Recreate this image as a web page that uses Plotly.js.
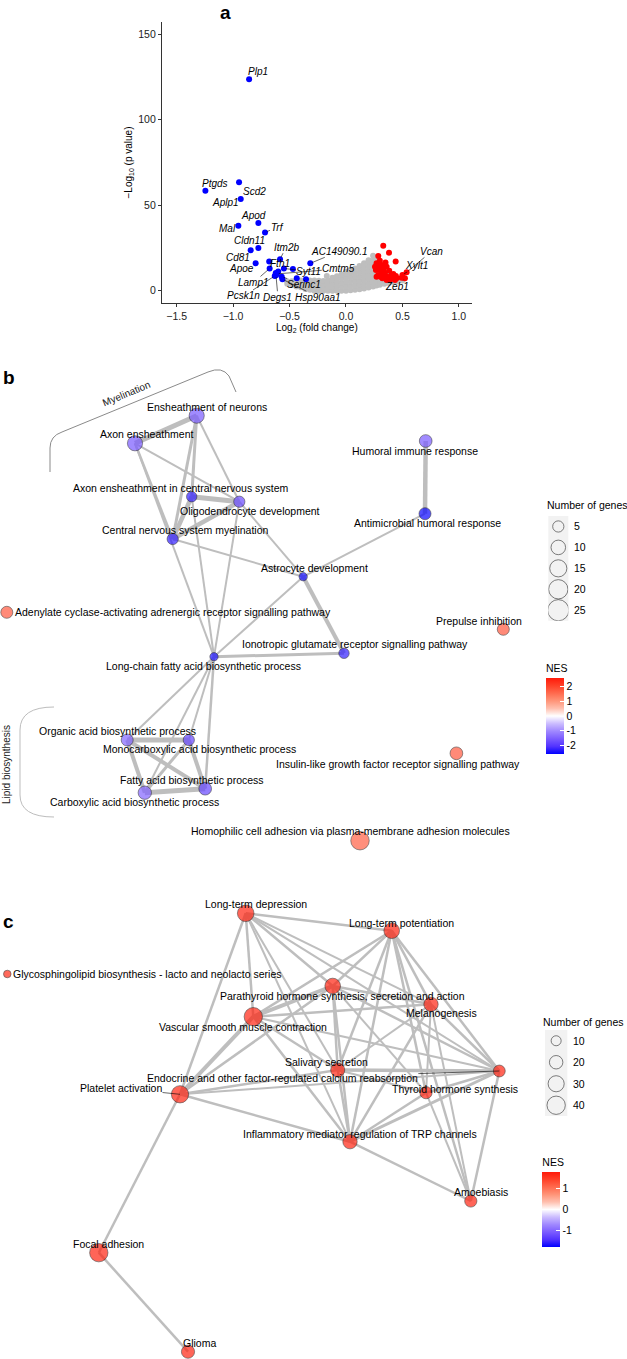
<!DOCTYPE html>
<html><head><meta charset="utf-8">
<script src="https://cdn.plot.ly/plotly-3.0.1.min.js"></script>
<style>html,body{margin:0;padding:0;background:#fff}#chart{width:627px;height:1359px}</style>
</head><body><div id="chart"></div>
<script>
// ================= DATA =================
// Panel a: volcano plot (log2 fold change, -log10 p value)
const blueGenes = ['Plp1','Ptgds','Scd2','Aplp1','Apod','Mal','Trf','Cldn11','Cd81','Itm2b','AC149090.1','Apoe','Fth1','Lamp1','Syt11','Cmtm5','Pcsk1n','Degs1','Hsp90aa1','Serinc1','','','','',''];
const blueLogFC = [-0.858,-1.245,-0.947,-0.932,-0.776,-0.953,-0.717,-0.776,-0.844,-0.584,-0.316,-0.80,-0.68,-0.676,-0.55,-0.613,-0.631,-0.62,-0.563,-0.569,-0.47,-0.436,-0.354,-0.622,-0.60];
const blueLogP  = [123.7,58.5,63.4,53.6,39.6,38.0,34.1,25.0,23.6,18.4,16.0,16.0,17.0,13.0,13.0,9.8,8.6,9.0,6.7,8.2,12.7,7.3,6.7,10.3,11.2];

const redGenes = ['Vcan','Xylt1','Zeb1','','','','','','','','','','','','','','','','','','','','','','','','','','','','','','','',''];
const redLogFC = [0.537,0.50,0.522,0.330,0.381,0.286,0.440,0.271,0.295,0.330,0.360,0.265,0.316,0.286,0.345,0.383,0.419,0.448,0.366,0.413,0.322,0.271,0.493,0.434,0.389,0.336,0.307,0.257,0.404,0.360,0.316,0.286,0.442,0.300,0.350];
const redLogP  = [10.7,9.2,7.2,26.3,22.2,20.3,17.0,16.0,14.0,13.1,14.0,12.1,11.1,9.2,10.5,11.7,9.8,7.2,8.2,7.8,7.2,8.2,7.6,6.2,6.2,9.2,8.2,14.0,9.2,6.2,15.0,12.5,8.6,17.5,16.5];

const greyPoints = [
 [-0.52,4],[-0.52,5.5],[-0.48,3.5],[-0.48,5.5],[-0.44,2.5],[-0.44,4.5],[-0.44,6],
 [-0.40,2],[-0.40,4],[-0.40,6],[-0.36,1],[-0.36,3],[-0.36,5],[-0.36,6],
 [-0.32,0.5],[-0.32,2.5],[-0.32,4.5],[-0.32,6],[-0.28,0],[-0.28,2],[-0.28,4],[-0.28,6],
 [-0.24,0],[-0.24,2],[-0.24,4],[-0.24,5.8],[-0.20,0],[-0.20,2],[-0.20,4],[-0.20,5.6],
 [-0.17,8.6],[-0.16,0],[-0.16,2.2],[-0.16,4.4],[-0.16,6],
 [-0.12,0],[-0.12,2.2],[-0.12,4.4],[-0.12,6.6],[-0.12,7.6],
 [-0.08,0],[-0.08,2.3],[-0.08,4.6],[-0.08,6.9],[-0.08,8.5],
 [-0.04,0],[-0.04,2.4],[-0.04,4.8],[-0.04,7.2],[-0.04,9.4],
 [0.00,0],[0.00,2.5],[0.00,5],[0.00,7.5],[0.00,10],[0.00,11],
 [0.04,0.3],[0.04,2.8],[0.04,5.3],[0.04,7.8],[0.04,10.3],[0.04,12],
 [0.08,0.5],[0.08,3],[0.08,5.5],[0.08,8],[0.08,10.5],[0.08,13],
 [0.12,0.8],[0.12,3.3],[0.12,5.8],[0.12,8.3],[0.12,10.8],[0.12,13.3],[0.12,14.5],
 [0.16,1.2],[0.16,3.7],[0.16,6.2],[0.16,8.7],[0.16,11.2],[0.16,13.7],[0.16,16],
 [0.20,1.8],[0.20,4.3],[0.20,6.8],[0.20,9.3],[0.20,11.8],[0.20,14.3],[0.20,16.8],[0.20,17.8],
 [0.24,2.5],[0.24,5],[0.24,7.5],[0.24,10],[0.24,12.5],[0.24,15],[0.24,17.5],[0.24,20.5],
 [0.27,3],[0.27,5.5],[0.27,8],[0.27,10.5],[0.27,13],[0.27,15.5],[0.27,18],
 [0.30,3.5],[0.30,6],[0.30,8.5],[0.30,11],[0.30,14],
 [0.34,4],[0.34,6.5],[0.34,9],[0.34,11],[0.38,4.5],[0.38,7],[0.38,9],
 [0.42,5],[0.42,7],[0.46,5.5],[0.46,7],[0.50,6]
];
const volcanoXTicks = [-1.5,-1.0,-0.5,0.0,0.5,1.0];
const volcanoYTicks = [0,50,100,150];

// Panel b: GO term network
const termIdB = ['ENS','AXE','ACN','OLI','CNM','AST','ADC','PPI','ION','LCF','ORG','MON','FAB','CAR','IGF','HOM','HUM','AMH'];
const termB = ['Ensheathment of neurons','Axon ensheathment','Axon ensheathment in central nervous system','Oligodendrocyte development','Central nervous system myelination','Astrocyte development','Adenylate cyclase-activating adrenergic receptor signalling pathway','Prepulse inhibition','Ionotropic glutamate receptor signalling pathway','Long-chain fatty acid biosynthetic process','Organic acid biosynthetic process','Monocarboxylic acid biosynthetic process','Fatty acid biosynthetic process','Carboxylic acid biosynthetic process','Insulin-like growth factor receptor signalling pathway','Homophilic cell adhesion via plasma-membrane adhesion molecules','Humoral immune response','Antimicrobial humoral response'];
const layoutXB = [196.7,135,191.7,239.3,172.7,303.2,6.8,503.3,344,214,127.2,188.8,205.2,144.8,456.4,360,425.7,425];
const layoutYB = [415.7,443.3,496.7,501.7,539,576.7,612.3,629.3,653.3,656.7,740,740,788.7,792.7,753.3,840.7,441,513.7];
const genesB = [11,11,4,5,5,2,6,6,4,2,6,5,7,8,7,18,7,6];
const nesB = [-1.55,-1.55,-2.25,-1.75,-2.25,-2.45,1.75,1.75,-2.25,-2.4,-1.45,-1.8,-1.8,-1.45,1.75,1.65,-1.55,-2.5];
const edgesB = [
 ['ENS','AXE',5],['ENS','ACN',3],['ENS','CNM',3],['ENS','OLI',2],['AXE','CNM',2.5],['AXE','OLI',2],['AXE','LCF',2],
 ['ACN','OLI',5],['ACN','CNM',4.5],['OLI','CNM',4.5],['ACN','LCF',2],['OLI','LCF',2],['CNM','AST',2],['OLI','AST',2],
 ['AST','LCF',2],['AST','ION',4],['AST','AMH',2],['LCF','ION',3],['HUM','AMH',4.5],
 ['LCF','ORG',2],['LCF','MON',2],['LCF','FAB',2.5],['LCF','CAR',2],
 ['ORG','MON',5],['ORG','CAR',4],['ORG','FAB',4],['MON','CAR',3],['MON','FAB',4],['CAR','FAB',5]
];
const legendCountsB = [5,10,15,20,25];
const nesTicksB = [-2,-1,0,1,2];

// Panel c: KEGG pathway network
const termIdC = ['LTD','GLY','VSM','PTH','LTP','MEL','SAL','END','THY','PLT','INF','AMO','FOC','GLI'];
const termC = ['Long-term depression','Glycosphingolipid biosynthesis - lacto and neolacto series','Vascular smooth muscle contraction','Parathyroid hormone synthesis, secretion and action','Long-term potentiation','Melanogenesis','Salivary secretion','Endocrine and other factor-regulated calcium reabsorption','Thyroid hormone synthesis','Platelet activation','Inflammatory mediator regulation of TRP channels','Amoebiasis','Focal adhesion','Glioma'];
const layoutXC = [245.7,7.3,253.3,332.7,391.7,431,337.7,499.3,426,180,350,470.8,98.8,188];
const layoutYC = [913.3,974,1016.7,986,930.7,1004.3,1070,1071,1092.7,1094.3,1141.7,1201,1252.7,1351.7];
const genesC = [32,5,40,28,28,23,22,15,16,35,23,16,40,19];
const nesC = [1.7,1.65,1.7,1.7,1.72,1.7,1.7,1.72,1.7,1.7,1.7,1.7,1.7,1.7];
const edgesC = [
 ['LTD','LTP',2.5],['LTD','VSM',2.5],['LTD','PLT',2.5],['LTD','PTH',2.5],['LTD','SAL',2],['LTD','INF',2],['LTD','MEL',2],['LTD','END',2],
 ['LTP','VSM',2.5],['LTP','PTH',2.5],['LTP','MEL',2.5],['LTP','SAL',2.5],['LTP','END',2.5],['LTP','THY',2.5],['LTP','INF',2.5],['LTP','AMO',2.5],
 ['PTH','VSM',4],['PTH','MEL',2.5],['PTH','SAL',2.5],['PTH','END',2.5],['PTH','THY',2],['PTH','INF',2.5],['PTH','PLT',2.5],
 ['VSM','MEL',2.5],['VSM','PLT',4],['VSM','SAL',2.5],['VSM','INF',2.5],['VSM','END',2],
 ['MEL','SAL',2],['MEL','END',2.5],['MEL','THY',2],['MEL','INF',2.5],['MEL','AMO',2],
 ['SAL','END',3.5],['SAL','PLT',2.5],['SAL','INF',2.5],['SAL','THY',2],
 ['END','THY',2.5],['END','INF',3],['END','AMO',2.5],['END','PLT',2],
 ['THY','INF',2.5],['THY','AMO',2],['PLT','INF',2.5],['INF','AMO',2.5],['PLT','FOC',2.5],['FOC','GLI',2.5]
];
const legendCountsC = [10,20,30,40];
const nesTicksC = [-1,0,1];

// ================= STYLE / PLACEMENT =================
const W = 627, H = 1359;
const FONT = 'Liberation Sans, Arial, Helvetica, sans-serif';
const EDGE_COLOR = '#bebebe';
const NES_SCALE = [[0,'#0000ff'],[0.1,'#5233ff'],[0.2,'#7b5cff'],[0.3,'#a088ff'],[0.4,'#cbbcff'],[0.5,'#ffffff'],[0.6,'#ffbfae'],[0.7,'#ff9478'],[0.8,'#ff6a4e'],[0.9,'#ff4128'],[1,'#ff1a0a']];
const sizeB = v => 3.2 + 3.6 * Math.sqrt(v);   // ggplot-like area size scale
const sizeC = v => 1.7 + 2.63 * Math.sqrt(v);
const py = p => 1 - p / H;   // page-pixel row -> paper fraction
const px = p => p / W;

// gene label offsets (pixels) for panel a
const geneLabelOffset = {
 Plp1:[9,-8], Ptgds:[10,-7], Scd2:[15,9], Aplp1:[-15,3], Apod:[-5,-7], Mal:[-11,3], Trf:[12,-5],
 Cldn11:[-9,-7], Cd81:[-13,7], Itm2b:[6,-12], 'AC149090.1':[29,-12], Apoe:[-14,5], Fth1:[11,2],
 Lamp1:[-16,14], Syt11:[25,3], Cmtm5:[62,-5], Pcsk1n:[-31,20], Degs1:[2,22], Hsp90aa1:[36,18],
 Serinc1:[22,8], Vcan:[25,-21], Xylt1:[14,-9], Zeb1:[-8,8]
};
// node label offsets (pixels, dx right, dy down)
const labelDxB = [10,11,-11,11,12,11,6,-24,11,-11,-10,11,-13,-10,-58,-10,-11,2];
const labelDyB = [-9,-9,-9,9,-9,-9,0,-8,-9,9,-9,9,-9,9,11,-10,10,9];
const labelDxC = [10,4,-10,10,10,10,-11,-217,29,-59,10,10,10,11];
const labelDyC = [-9,0,10,10,-8,9,-8,7,-4,-6,-8,-9,-9,-9];
const leftAnchoredB = ['ADC'], leftAnchoredC = ['GLY'];
const leaderC = ['END','PLT'];

// ================= TRACES =================
const traces = [];
const annotations = [];
const shapes = [];

// Panel a
traces.push({type:'scatter', mode:'markers', xaxis:'x', yaxis:'y', hoverinfo:'skip',
  x: greyPoints.map(p=>p[0]), y: greyPoints.map(p=>p[1]), marker:{color:'#bebebe', size:6}});
traces.push({type:'scatter', mode:'markers', xaxis:'x', yaxis:'y', hoverinfo:'skip',
  x: redLogFC, y: redLogP, marker:{color:'#ff0000', size:6}});
traces.push({type:'scatter', mode:'markers', xaxis:'x', yaxis:'y', hoverinfo:'skip',
  x: blueLogFC, y: blueLogP, marker:{color:'#0000ff', size:6}});
function geneLabel(name, x, y){
  if(!name) return;
  const o = geneLabelOffset[name];
  annotations.push({xref:'x', yref:'y', x:x, y:y, text:name, showarrow:true, ax:o[0], ay:o[1],
    arrowhead:0, arrowwidth:0.6, arrowcolor:'#000', standoff:2, borderpad:0,
    font:{family:FONT, size:10, style:'italic', color:'#000'}});
}
blueGenes.forEach((g,i)=>geneLabel(g, blueLogFC[i], blueLogP[i]));
redGenes.forEach((g,i)=>geneLabel(g, redLogFC[i], redLogP[i]));

// network helper
function network(ids, names, xs, ys, genes, nes, edges, sizeFn, xa, ya, dx, dy, leftIds, leaders, cmax, ticks, cbY){
  edges.forEach(e=>{
    const i = ids.indexOf(e[0]), j = ids.indexOf(e[1]);
    traces.push({type:'scatter', mode:'lines', xaxis:xa, yaxis:ya, hoverinfo:'skip',
      x:[xs[i], xs[j]], y:[ys[i], ys[j]], line:{color:EDGE_COLOR, width:e[2]}});
  });
  traces.push({type:'scatter', mode:'markers', xaxis:xa, yaxis:ya, hoverinfo:'skip',
    x: xs, y: ys,
    marker:{size: genes.map(sizeFn), color: nes, colorscale: NES_SCALE, cmin:-cmax, cmax:cmax,
      line:{color:'#000', width:0.6}, showscale:true,
      colorbar:{x:cbY.x, xanchor:'left', y:cbY.y, yanchor:'middle', len:cbY.len, lenmode:'pixels',
        thickness:18, thicknessmode:'pixels', outlinewidth:0, xpad:0, ypad:0,
        ticks:'inside', ticklen:4, tickwidth:1, tickcolor:'#ffffff',
        tickvals: ticks, ticktext: ticks.map(t=>String(t)),
        tickfont:{family:FONT, size:10.5, color:'#000'},
        title:{text:'NES', side:'top', font:{family:FONT, size:10.5, color:'#000'}}}}});
  names.forEach((n,i)=>{
    const id = ids[i];
    if(leaders.indexOf(id) >= 0){
      annotations.push({xref:xa, yref:ya, x:xs[i], y:ys[i], text:n, showarrow:true, ax:dx[i], ay:dy[i],
        arrowhead:0, arrowwidth:0.6, arrowcolor:'#000', standoff:0, borderpad:0,
        font:{family:FONT, size:10.5, color:'#000'}});
    } else {
      const left = leftIds.indexOf(id) >= 0;
      annotations.push({xref:xa, yref:ya, x:xs[i], y:ys[i], text:n, showarrow:false,
        xanchor: left ? 'left' : 'center', xshift:dx[i], yshift:-dy[i],
        font:{family:FONT, size:10.5, color:'#000'}});
    }
  });
}
network(termIdB, termB, layoutXB, layoutYB, genesB, nesB, edgesB, sizeB, 'x2','y2', labelDxB, labelDyB, leftAnchoredB, [], 2.57, nesTicksB,
  {x:px(546), y:py(707.5), len:93});
network(termIdC, termC, layoutXC, layoutYC, genesC, nesC, edgesC, sizeC, 'x3','y3', labelDxC, labelDyC, leftAnchoredC, leaderC, 1.8, nesTicksC,
  {x:px(542.3), y:py(1201), len:92});

// size legends
function sizeLegend(counts, sizeFn, xa, ya, title, titleX, titleY){
  traces.push({type:'scatter', mode:'markers', xaxis:xa, yaxis:ya, hoverinfo:'skip',
    x: counts.map(()=>0), y: counts.map((c,i)=>i),
    marker:{size: counts.map(sizeFn), color:'rgba(0,0,0,0)', line:{color:'#000', width:0.7}}});
  counts.forEach((c,i)=>annotations.push({xref:xa, yref:ya, x:1, y:i, text:String(c), showarrow:false,
    xanchor:'left', xshift:4, font:{family:FONT, size:10.5, color:'#000'}}));
  shapes.push({type:'rect', xref:xa+' domain', yref:ya+' domain', x0:0, x1:1, y0:0, y1:1,
    fillcolor:'#f2f2f2', line:{width:0}, layer:'below'});
  annotations.push({xref:'paper', yref:'paper', x:titleX, y:titleY, text:title, showarrow:false,
    xanchor:'left', yanchor:'middle', font:{family:FONT, size:10.5, color:'#000'}});
}
sizeLegend(legendCountsB, sizeB, 'x4','y4', 'Number of genes', px(545), py(505));
sizeLegend(legendCountsC, sizeC, 'x5','y5', 'Number of genes', px(541), py(1021.7));

// brackets in panel b
shapes.push({type:'path', xref:'x2', yref:'y2', path:'M 50,472 L 50,448 Q 50,436 62,432 L 208,372 Q 222,366 229,376 L 236,392',
  line:{color:'#8a8a8a', width:1}});
shapes.push({type:'path', xref:'x2', yref:'y2', path:'M 54,707 Q 20,707 20,730 L 20,795 Q 20,817 54,817',
  line:{color:'#bdbdbd', width:1}});
annotations.push({xref:'x2', yref:'y2', x:126.7, y:393.3, text:'Myelination', textangle:-22.5, showarrow:false,
  font:{family:FONT, size:10, color:'#222'}});
annotations.push({xref:'x2', yref:'y2', x:6, y:765, text:'Lipid biosynthesis', textangle:-90, showarrow:false,
  font:{family:FONT, size:10, color:'#222'}});

// panel letters
[['a',226,12],['b',9,378],['c',8,922]].forEach(l=>annotations.push({xref:'paper', yref:'paper', x:px(l[1]), y:py(l[2]),
  text:'<b>'+l[0]+'</b>', showarrow:false, xanchor:'center', yanchor:'middle', font:{family:FONT, size:19, color:'#000'}}));

const hidden = {visible:false, showgrid:false, zeroline:false, fixedrange:true};
const layout = {
  width:W, height:H, margin:{l:0, r:0, t:0, b:0, pad:0}, paper_bgcolor:'#ffffff', plot_bgcolor:'rgba(0,0,0,0)',
  showlegend:false, font:{family:FONT, color:'#000'},
  xaxis:{domain:[px(161.7), px(472)], range:[-1.632,1.116], anchor:'y', showline:true, linecolor:'#000', linewidth:0.8,
    ticks:'outside', ticklen:3, tickwidth:0.8, tickcolor:'#000', tickvals:volcanoXTicks, tickformat:'.1f',
    showgrid:false, zeroline:false, tickfont:{family:FONT, size:10.5, color:'#222'},
    title:{text:'Log<sub>2</sub> (fold change)', font:{family:FONT, size:10, color:'#000'}, standoff:1}},
  yaxis:{domain:[py(303.3), py(21.7)], range:[-7.4,157.4], anchor:'x', showline:true, linecolor:'#000', linewidth:0.8,
    ticks:'outside', ticklen:3, tickwidth:0.8, tickcolor:'#000', tickvals:volcanoYTicks,
    showgrid:false, zeroline:false, tickfont:{family:FONT, size:10.5, color:'#222'},
    title:{text:'\u2212Log<sub>10</sub> (p value)', font:{family:FONT, size:10, color:'#000'}, standoff:3}},
  xaxis2:Object.assign({domain:[0,1], range:[0,627], anchor:'y2'}, hidden),
  yaxis2:Object.assign({domain:[py(880), py(330)], range:[880,330], anchor:'x2'}, hidden),
  xaxis3:Object.assign({domain:[0,1], range:[0,627], anchor:'y3'}, hidden),
  yaxis3:Object.assign({domain:[0, py(880)], range:[1359,880], anchor:'x3'}, hidden),
  xaxis4:Object.assign({domain:[px(548.3), px(568.3)], range:[-1,1], anchor:'y4'}, hidden),
  yaxis4:Object.assign({domain:[py(620.7), py(516)], range:[4.5,-0.5], anchor:'x4'}, hidden),
  xaxis5:Object.assign({domain:[px(545), px(567.3)], range:[-1,1], anchor:'y5'}, hidden),
  yaxis5:Object.assign({domain:[py(1116), py(1030)], range:[3.5,-0.5], anchor:'x5'}, hidden),
  annotations: annotations, shapes: shapes
};
Plotly.newPlot('chart', traces, layout, {staticPlot:true, displayModeBar:false});
</script></body></html>
